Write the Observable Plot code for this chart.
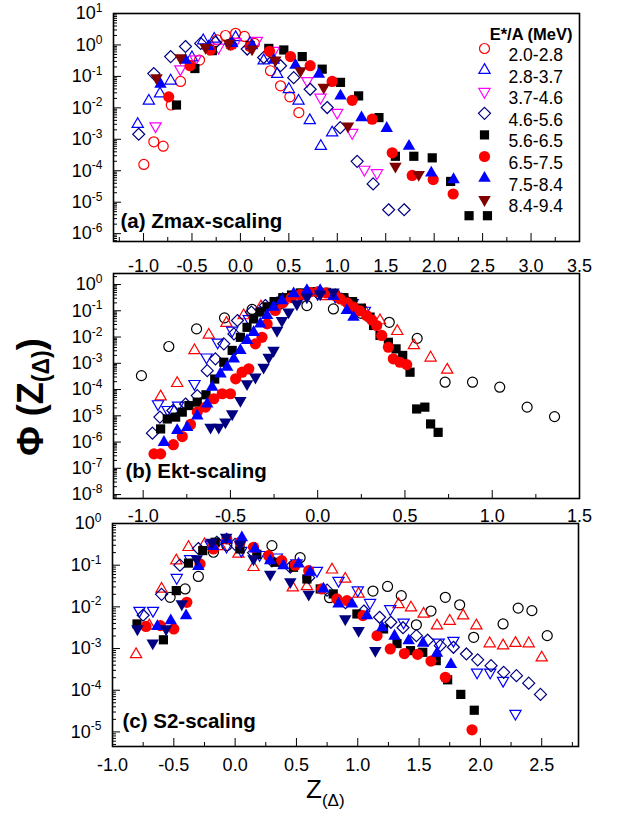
<!DOCTYPE html>
<html><head><meta charset="utf-8">
<script src="https://cdn.jsdelivr.net/npm/d3@7"></script>
<script src="https://cdn.jsdelivr.net/npm/@observablehq/plot@0.6"></script>
<style>
body{margin:0;background:#fff;}
#wrap{position:relative;width:621px;height:816px;overflow:hidden;font-family:"Liberation Sans",Arial,sans-serif;background:#fff;}
.panel{position:absolute;left:0;}
#ytitle{position:absolute;left:33px;top:397px;transform:translate(-50%,-50%) rotate(-90deg);font-weight:bold;font-size:36px;white-space:nowrap;line-height:1;}
#ytitle sub{font-size:23px;vertical-align:-0.3em;}
#xtitle{position:absolute;left:306px;top:776px;font-size:26px;white-space:nowrap;line-height:26px;}
#xtitle sub{font-size:17px;vertical-align:-0.45em;}
</style></head><body><div id="wrap"></div>
<script>
// ---------------- labels ----------------
const energyBins = ["2.0-2.8","2.8-3.7","3.7-4.6","4.6-5.6","5.6-6.5","6.5-7.5","7.5-8.4","8.4-9.4"];
const legendTitle = "E*/A (MeV)";
const panelTitles = ["(a) Zmax-scaling","(b) Ekt-scaling","(c) S2-scaling"];
// axis ranges: x, and log10 of Phi
const xRangeA = [-1.31, 3.5], xRangeB = [-1.17, 1.5], xRangeC = [-1.0, 2.80];
const yExpA = [-6.25, 1], yExpB = [-8.15, 0.42], yExpC = [-5.35, 0];

// ---------------- data: [Z(Δ), log10 Φ] ----------------
// (a) Zmax-scaling
const zmax1 = [[-0.997,-3.80],[-0.894,-3.08],[-0.797,-3.22],[-0.714,-1.91],[-0.618,-1.16],[-0.422,-0.48],[-0.24,0.16],[-0.154,0.30],[-0.05,0.37],[0.042,0.27],[0.145,0.05],[0.31,-0.82],[0.414,-1.30],[0.51,-1.65],[0.603,-2.15]];
const zmax2 = [[-1.06,-2.52],[-0.945,-1.78],[-0.83,-1.55],[-0.72,-1.14],[-0.50,-0.40],[-0.384,0.14],[-0.27,0.19],[-0.05,0.24],[0.10,0.05],[0.24,-0.50],[0.38,-0.93],[0.50,-1.41],[0.60,-1.78],[0.716,-2.40],[0.83,-3.22],[0.947,-2.79]];
const zmax3 = [[-0.876,-2.58],[-0.62,-0.77],[-0.463,-0.45],[-0.226,-0.08],[-0.05,0.10],[0.17,0.14],[0.345,-0.18],[0.69,-1.14],[0.827,-1.67],[0.999,-2.15],[1.154,-2.79],[1.28,-3.96],[1.41,-4.07]];
const zmax4 = [[-1.05,-2.84],[-0.894,-0.91],[-0.72,-0.37],[-0.567,-0.05],[-0.41,0.05],[-0.257,0.08],[-0.10,0.03],[0.07,-0.13],[0.24,-0.40],[0.414,-0.66],[0.55,-1.04],[0.72,-1.41],[0.896,-1.99],[1.03,-2.63],[1.205,-3.70],[1.37,-4.42],[1.53,-5.24],[1.69,-5.24]];
const zmax5 = [[-0.66,-1.91],[-0.47,-0.75],[-0.29,-0.18],[-0.10,0.03],[0.10,-0.02],[0.293,-0.11],[0.448,-0.16],[0.638,-0.37],[0.844,-0.77],[1.033,-1.19],[1.22,-1.62],[1.43,-2.31],[1.60,-3.54],[1.79,-3.54],[1.98,-3.59],[2.17,-4.34],[2.36,-5.43],[2.55,-5.43]];
const zmax6 = [[-0.74,-1.65],[-0.52,-0.66],[-0.31,-0.16],[-0.10,0.0],[0.10,-0.05],[0.30,-0.20],[0.517,-0.37],[0.72,-0.66],[0.947,-1.16],[1.154,-1.76],[1.36,-2.36],[1.567,-3.43],[1.773,-4.15],[1.99,-4.28],[2.196,-4.74]];
const zmax7 = [[-0.825,-1.25],[-0.567,-0.48],[-0.33,-0.05],[-0.085,0.05],[0.12,-0.02],[0.345,-0.48],[0.568,-0.64],[0.81,-0.93],[1.033,-1.62],[1.25,-2.31],[1.51,-2.65],[1.74,-3.22],[1.97,-4.07],[2.20,-4.28]];
const zmax8 = [[-0.866,-1.05],[-0.62,-0.41],[-0.36,-0.08],[-0.12,0.05],[0.12,-0.13],[0.36,-0.48],[0.62,-0.82],[0.86,-1.35],[1.11,-2.58],[1.60,-3.86],[1.84,-4.12]];
// (b) Ekt-scaling
const ekt1 = [[-1.01,-3.47],[-0.853,-2.36],[-0.694,-1.69],[-0.534,-1.27],[-0.376,-0.95],[-0.22,-0.75],[-0.062,-0.80],[0.09,-0.93],[0.25,-1.10],[0.41,-1.44],[0.57,-2.05],[0.73,-3.72],[0.887,-3.72],[1.043,-3.91],[1.20,-4.67],[1.357,-5.03]];
const ekt2 = [[-0.90,-4.27],[-0.805,-3.76],[-0.706,-2.51],[-0.624,-1.92],[-0.523,-1.47],[-0.424,-1.18],[-0.325,-0.84],[-0.20,-0.60],[-0.08,-0.45],[0.05,-0.45],[0.17,-0.65],[0.27,-1.00],[0.357,-1.37],[0.456,-1.78],[0.551,-2.32],[0.647,-2.79],[0.742,-3.25]];
const ekt3 = [[-0.915,-4.55],[-0.86,-4.77],[-0.80,-4.60],[-0.706,-3.78],[-0.637,-2.77],[-0.573,-2.20],[-0.49,-1.75],[-0.395,-1.31],[-0.31,-0.99],[-0.20,-0.60],[-0.10,-0.40],[0.0,-0.35],[0.10,-0.45],[0.20,-0.70],[0.27,-0.99]];
const ekt4 = [[-0.947,-5.66],[-0.904,-5.05],[-0.83,-4.80],[-0.757,-4.55],[-0.69,-4.23],[-0.633,-3.28],[-0.586,-2.83],[-0.538,-2.26],[-0.48,-1.88],[-0.46,-1.37],[-0.38,-1.05],[-0.30,-0.80],[-0.20,-0.55],[-0.10,-0.40],[0.0,-0.33],[0.10,-0.40]];
const ekt5 = [[-0.90,-5.50],[-0.862,-5.12],[-0.814,-5.05],[-0.776,-4.86],[-0.738,-4.61],[-0.69,-4.48],[-0.64,-4.20],[-0.59,-3.60],[-0.538,-2.96],[-0.49,-2.51],[-0.443,-2.01],[-0.405,-1.63],[-0.367,-1.31],[-0.33,-1.05],[-0.29,-0.85],[-0.25,-0.65],[-0.20,-0.50],[-0.15,-0.40],[-0.10,-0.32],[-0.05,-0.28],[0.0,-0.27],[0.05,-0.30],[0.10,-0.40],[0.15,-0.50],[0.20,-0.65],[0.25,-0.90],[0.30,-1.24],[0.32,-1.56],[0.357,-1.94],[0.405,-2.20],[0.449,-2.45],[0.487,-2.70],[0.529,-3.34],[0.567,-4.74],[0.614,-4.67],[0.647,-5.31],[0.69,-5.63]];
const ekt6 = [[-0.938,-6.45],[-0.90,-6.45],[-0.827,-6.10],[-0.776,-5.79],[-0.729,-5.33],[-0.69,-4.86],[-0.643,-4.67],[-0.595,-4.35],[-0.547,-4.16],[-0.50,-4.16],[-0.47,-3.59],[-0.433,-3.34],[-0.395,-3.21],[-0.357,-2.26],[-0.319,-2.01],[-0.29,-1.50],[-0.243,-0.99],[-0.20,-0.70],[-0.15,-0.50],[-0.10,-0.38],[-0.05,-0.30],[0.0,-0.28],[0.05,-0.32],[0.10,-0.42],[0.129,-0.55],[0.17,-0.70],[0.205,-0.86],[0.24,-1.00],[0.28,-1.18],[0.31,-1.35],[0.338,-1.56],[0.367,-1.94],[0.405,-2.39],[0.433,-2.83],[0.471,-2.96],[0.51,-3.05]];
const ekt7 = [[-0.881,-6.01],[-0.805,-5.56],[-0.748,-5.44],[-0.69,-5.00],[-0.633,-4.55],[-0.605,-3.91],[-0.557,-3.40],[-0.519,-3.15],[-0.481,-2.83],[-0.443,-2.51],[-0.405,-2.13],[-0.367,-1.82],[-0.329,-1.50],[-0.29,-1.18],[-0.253,-0.86],[-0.205,-0.61],[-0.138,-0.35],[-0.062,-0.23],[0.014,-0.23],[0.09,-0.45],[0.167,-0.99],[0.205,-1.24]];
const ekt8 = [[-0.614,-5.44],[-0.567,-5.44],[-0.529,-5.24],[-0.49,-4.93],[-0.443,-4.42],[-0.405,-3.78],[-0.357,-3.53],[-0.31,-3.15],[-0.281,-2.77],[-0.253,-2.51],[-0.233,-1.75],[-0.205,-1.37],[-0.167,-1.05],[-0.119,-0.74],[-0.062,-0.48],[0.014,-0.36],[0.09,-0.29]];
// (c) S2-scaling
const s2_1 = [[-0.53,-1.77],[-0.408,-1.57],[-0.30,-1.27],[-0.177,-0.69],[-0.068,-0.53],[0.30,-0.53],[0.53,-0.82],[0.77,-1.78],[1.124,-1.62],[1.243,-1.51],[1.355,-1.73],[1.478,-2.43],[1.597,-2.10],[1.714,-1.77],[1.831,-1.95],[1.945,-2.73],[2.185,-2.41],[2.308,-2.03],[2.42,-2.09],[2.545,-2.69]];
const s2_2 = [[-0.808,-3.14],[-0.70,-2.45],[-0.60,-1.57],[-0.48,-0.89],[-0.38,-0.57],[-0.25,-0.50],[-0.12,-0.55],[0.027,-0.73],[0.15,-1.05],[0.47,-1.54],[0.585,-1.51],[0.79,-1.11],[0.898,-1.33],[1.007,-1.69],[1.333,-1.94],[1.434,-2.02],[1.537,-2.17],[1.646,-2.45],[1.75,-2.34],[1.859,-2.21],[1.967,-2.45],[2.076,-2.88],[2.185,-2.93],[2.286,-2.87],[2.394,-2.88],[2.50,-3.22]];
const s2_3 = [[-0.78,-2.09],[-0.67,-2.09],[-0.476,-1.30],[-0.367,-0.85],[-0.20,-0.50],[-0.07,-0.55],[0.05,-0.65],[0.20,-0.75],[0.34,-0.81],[0.50,-0.95],[0.667,-1.13],[0.843,-1.37],[1.0,-1.60],[1.10,-1.90],[1.265,-2.05],[1.374,-2.37],[1.66,-2.85],[1.78,-2.81],[1.973,-3.57],[2.08,-3.57],[2.185,-3.77],[2.286,-4.56]];
const s2_4 = [[-0.75,-2.20],[-0.60,-1.70],[-0.45,-1.00],[-0.30,-0.60],[-0.15,-0.45],[0.0,-0.50],[0.15,-0.70],[0.30,-0.90],[0.45,-1.05],[0.60,-1.30],[0.75,-1.60],[0.90,-1.90],[1.05,-2.10],[1.178,-2.25],[1.27,-2.37],[1.369,-2.50],[1.478,-2.69],[1.57,-2.80],[1.673,-2.93],[1.78,-2.97],[1.886,-3.13],[1.978,-3.27],[2.087,-3.41],[2.19,-3.57],[2.294,-3.65],[2.394,-3.83],[2.49,-4.10]];
const s2_5 = [[-0.80,-2.41],[-0.585,-2.79],[-0.48,-1.61],[-0.38,-0.95],[-0.264,-0.65],[-0.163,-0.45],[-0.07,-0.38],[0.04,-0.61],[0.177,-0.74],[0.327,-0.93],[0.476,-1.05],[0.585,-1.33],[0.694,-1.57],[0.80,-1.69],[0.993,-2.17],[1.21,-2.53],[1.32,-2.88],[1.43,-3.05],[1.53,-3.09],[1.64,-3.29],[1.733,-3.75],[1.84,-4.10],[1.95,-4.48]];
const s2_6 = [[-0.727,-2.47],[-0.61,-2.45],[-0.50,-2.53],[-0.394,-1.89],[-0.286,-0.97],[-0.177,-0.61],[-0.068,-0.37],[0.04,-0.45],[0.15,-0.57],[0.272,-0.77],[0.38,-0.89],[0.49,-1.00],[0.60,-1.13],[0.707,-1.57],[0.83,-1.81],[0.912,-1.85],[1.042,-2.21],[1.157,-2.69],[1.265,-3.01],[1.38,-3.12],[1.488,-3.14],[1.597,-3.30],[1.714,-3.69],[1.932,-4.95]];
const s2_7 = [[-0.634,-2.47],[-0.525,-2.33],[-0.40,-2.21],[-0.30,-1.03],[-0.18,-0.55],[-0.07,-0.38],[0.055,-0.34],[0.163,-0.61],[0.286,-0.89],[0.394,-1.01],[0.517,-0.97],[0.612,-1.17],[0.72,-1.57],[0.843,-1.93],[0.953,-1.93],[1.075,-2.21],[1.20,-2.50],[1.30,-2.70],[1.415,-2.81],[1.532,-2.87],[1.646,-3.11],[1.76,-3.38]];
const s2_8 = [[-0.797,-2.53],[-0.672,-2.87],[-0.563,-2.53],[-0.435,-1.93],[-0.313,-0.85],[-0.19,-0.45],[-0.073,-0.33],[0.04,-0.50],[0.15,-0.85],[0.286,-1.22],[0.45,-1.40],[0.60,-1.70],[0.898,-2.29],[1.007,-2.57],[1.143,-3.05]];

// ---------------- styles ----------------
function sym(kind) {
  return {draw(c, size) {
    const r = Math.sqrt(size / Math.PI);
    if (kind === "circle") { c.moveTo(r, 0); c.arc(0, 0, r, 0, 2 * Math.PI); c.closePath(); }
    else if (kind === "up") { c.moveTo(0, -r); c.lineTo(r * 0.866, r * 0.5); c.lineTo(-r * 0.866, r * 0.5); c.closePath(); }
    else if (kind === "down") { c.moveTo(0, r); c.lineTo(r * 0.866, -r * 0.5); c.lineTo(-r * 0.866, -r * 0.5); c.closePath(); }
    else if (kind === "diamond") { c.moveTo(0, -r); c.lineTo(r, 0); c.lineTo(0, r); c.lineTo(-r, 0); c.closePath(); }
    else { c.moveTo(-r, -r); c.lineTo(r, -r); c.lineTo(r, r); c.lineTo(-r, r); c.closePath(); }
  }};
}
const shapes = ["circle","up","down","diamond","square","circle","up","down"];
const filled = [false,false,false,false,true,true,true,true];
const radii = [5, 6.5, 6.5, 6, 4.6, 5.6, 7.2, 7.2];
const colorsA = ["#ff0000","#0000ff","#ff00ff","#000080","#000000","#ff0000","#0000ff","#800000"];
const colorsBC = ["#000000","#ff0000","#0000ff","#000080","#000000","#ff0000","#0000ff","#000080"];

const FONT = '"Liberation Sans", Arial, sans-serif';

function makePanel(cfg) {
  const {series, colors, xDomain, yExp, ml, mr, top, height, mt, mb, pad, title, tdx, tdy, legend} = cfg;
  const yLo = 10 ** yExp[0], yHi = 10 ** yExp[1];
  const majorY = d3.range(Math.ceil(yExp[0]), Math.floor(yExp[1]) + 1).map(e => 10 ** e);
  const minorY = [];
  for (let e = Math.floor(yExp[0]); e < Math.ceil(yExp[1]); e++)
    for (let m = 2; m < 10; m++) { const v = m * 10 ** e; if (v > yLo && v < yHi) minorY.push(v); }
  const qx = d3.range(Math.ceil(xDomain[0] * 4 - 1e-9), Math.floor(xDomain[1] * 4 + 1e-9) + 1).map(k => k / 4);
  const majorX = qx.filter(v => Number.isInteger(v * 2));
  const minorX = qx.filter(v => !Number.isInteger(v * 2));
  const marks = [
    Plot.axisY(minorY, {anchor: "left", tickSize: -4, fill: "none", label: null}),
    Plot.axisY(majorY, {anchor: "left", tickSize: -8, fill: "none", label: null}),
    Plot.axisY(majorY, {anchor: "left", tickSize: 0, tickPadding: 11, fontSize: 18, tickFormat: d => "10^" + Math.round(Math.log10(d)), label: null}),
    Plot.axisX(minorX, {anchor: "bottom", tickSize: -4, fill: "none", label: null}),
    Plot.axisX(majorX, {anchor: "bottom", tickSize: -8, fill: "none", label: null}),
    Plot.axisX(majorX, {anchor: "bottom", tickSize: 0, tickPadding: pad, fontSize: 18, tickFormat: d => d.toFixed(1), label: null})
  ];
  series.forEach((pts, i) => {
    marks.push(Plot.dot(pts, {
      x: d => d[0], y: d => 10 ** d[1], symbol: sym(shapes[i]), r: radii[i],
      fill: filled[i] ? colors[i] : "none", stroke: filled[i] ? "none" : colors[i], strokeWidth: 1.2
    }));
  });
  marks.push(Plot.frame({strokeWidth: 1.6}));
  marks.push(Plot.text([title], {text: d => d, frameAnchor: "bottom-left", dx: tdx, dy: tdy, textAnchor: "start", fontWeight: "bold", fontSize: 20.5}));
  if (legend) {
    marks.push(Plot.text([legendTitle], {text: d => d, frameAnchor: "top-right", dx: -7, dy: 15, textAnchor: "end", fontWeight: "bold", fontSize: 16.5}));
    energyBins.forEach((lab, i) => {
      marks.push(Plot.dot([lab], {frameAnchor: "top-right", dx: -95, dy: 35 + i * 21.6, symbol: sym(shapes[i]), r: radii[i],
        fill: filled[i] ? colors[i] : "none", stroke: filled[i] ? "none" : colors[i], strokeWidth: 1.2}));
      marks.push(Plot.text([lab], {text: d => d, frameAnchor: "top-right", dx: -71, dy: 35 + i * 21.6, textAnchor: "start", fontSize: 17.5}));
    });
  }
  const svg = Plot.plot({
    width: 621, height, marginLeft: ml, marginRight: mr, marginTop: mt, marginBottom: mb,
    x: {domain: xDomain},
    y: {type: "log", domain: [yLo, yHi]},
    style: {fontFamily: FONT, fontSize: "18px", background: "transparent", overflow: "visible", color: "black"},
    marks
  });
  // superscript exponents for the log tick labels
  svg.querySelectorAll('g[aria-label="y-axis tick label"] text').forEach(t => {
    const s = t.textContent;
    if (!s.includes("^")) return;
    const [base, ex] = s.split("^");
    t.textContent = "";
    const ns = "http://www.w3.org/2000/svg";
    const b = document.createElementNS(ns, "tspan"); b.textContent = base; t.appendChild(b);
    const e = document.createElementNS(ns, "tspan"); e.textContent = ex;
    e.setAttribute("font-size", "12"); e.setAttribute("dy", "-0.6em"); t.appendChild(e);
  });
  const div = document.createElement("div");
  div.className = "panel";
  div.style.top = top + "px";
  div.appendChild(svg);
  return div;
}

const wrap = document.getElementById("wrap");
wrap.appendChild(makePanel({series: [zmax1,zmax2,zmax3,zmax4,zmax5,zmax6,zmax7,zmax8], colors: colorsA,
  xDomain: xRangeA, yExp: yExpA, ml: 113, mr: 42, top: 0, height: 280, mt: 13, mb: 39, pad: 18,
  title: panelTitles[0], tdx: 7, tdy: -14, legend: true}));
wrap.appendChild(makePanel({series: [ekt1,ekt2,ekt3,ekt4,ekt5,ekt6,ekt7,ekt8], colors: colorsBC,
  xDomain: xRangeB, yExp: yExpB, ml: 113, mr: 42, top: 260, height: 270, mt: 13, mb: 32, pad: 11,
  title: panelTitles[1], tdx: 12, tdy: -21, legend: false}));
wrap.appendChild(makePanel({series: [s2_1,s2_2,s2_3,s2_4,s2_5,s2_6,s2_7,s2_8], colors: colorsBC,
  xDomain: xRangeC, yExp: yExpC, ml: 112, mr: 43, top: 510, height: 270, mt: 13, mb: 34, pad: 12,
  title: panelTitles[2], tdx: 10, tdy: -19, legend: false}));

const yt = document.createElement("div"); yt.id = "ytitle";
yt.innerHTML = "Φ (Z<sub>(Δ)</sub>)";
wrap.appendChild(yt);
const xt = document.createElement("div"); xt.id = "xtitle";
xt.innerHTML = "Z<sub>(Δ)</sub>";
wrap.appendChild(xt);
</script></body></html>
